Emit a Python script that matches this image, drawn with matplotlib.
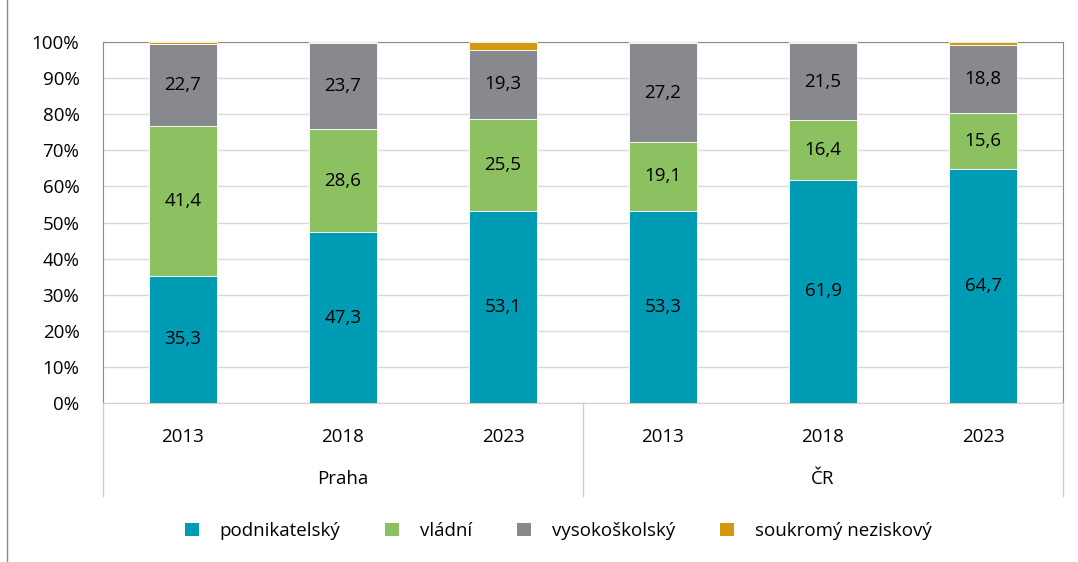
import matplotlib.pyplot as plt
from matplotlib.patches import Patch
from matplotlib.lines import Line2D
import matplotlib.transforms as mtransforms

plt.rcParams['font.family'] = ['Open Sans', 'DejaVu Sans']

groups = ['Praha', 'ČR']
years = ['2013', '2018', '2023', '2013', '2018', '2023']
series = ['podnikatelský', 'vládní', 'vysokoškolský', 'soukromý neziskový']
podnikatelsky = [35.3, 47.3, 53.1, 53.3, 61.9, 64.7]
vladni = [41.4, 28.6, 25.5, 19.1, 16.4, 15.6]
vysokoskolsky = [22.7, 23.7, 19.3, 27.2, 21.5, 18.8]
soukromy = [0.6, 0.4, 2.1, 0.4, 0.2, 0.9]
colors = ['#009CB5', '#8BC160', '#87898C', '#D4980F']

fs = 13.5

fig = plt.figure(figsize=(10.78, 5.62), dpi=100)
ax = fig.add_axes([103 / 1078, 1 - 403 / 562, 960 / 1078, 361 / 562])

x = list(range(len(years)))
bottom = [0] * len(years)
data = [podnikatelsky, vladni, vysokoskolsky, soukromy]
for k, (vals, c) in enumerate(zip(data, colors)):
    ax.bar(x, vals, bottom=bottom, width=0.425, color=c,
           edgecolor='white', linewidth=0.6, zorder=3)
    if k < 3:
        for xi, b, v in zip(x, bottom, vals):
            ax.text(xi, b + v / 2, f'{v:.1f}'.replace('.', ','),
                    ha='center', va='center', fontsize=fs, zorder=4)
    bottom = [b + v for b, v in zip(bottom, vals)]

ax.set_xlim(-0.5, 5.5)
ax.set_ylim(0, 100)
ax.set_yticks(range(0, 101, 10))
ax.set_yticklabels([f'{t}%' for t in range(0, 101, 10)], fontsize=fs)
ax.tick_params(axis='y', length=0, pad=17)
ax.set_xticks(x)
ax.set_xticklabels(years, fontsize=fs)
ax.tick_params(axis='x', length=0, pad=18)
ax.grid(axis='y', color='#D9D9D9', linewidth=1, zorder=0)
for s in ['left', 'top', 'right']:
    ax.spines[s].set_color('#8C8C8C')
ax.spines['bottom'].set_color('#D0D0D0')

trans = mtransforms.blended_transform_factory(ax.transData, ax.transAxes)
for xs in [-0.5, 2.5, 5.5]:
    ax.add_line(Line2D([xs, xs], [0, -0.258], transform=trans,
                       color='#D0D0D0', linewidth=1, clip_on=False))
for gi, g in enumerate(groups):
    ax.text(gi * 3 + 1, -0.211, g, transform=trans, ha='center', va='center',
            fontsize=fs)

handles = [Patch(facecolor=c, edgecolor='none') for c in colors]
fig.legend(handles, series, loc='center', bbox_to_anchor=(558 / 1078, 1 - 531 / 562),
           ncol=4, frameon=False, fontsize=fs, handlelength=0.75, handleheight=0.75,
           handletextpad=1.1, columnspacing=2.4)

fig.add_artist(Line2D([7 / 1078, 7 / 1078], [0, 1], transform=fig.transFigure,
                      color='#8C8C8C', linewidth=1))

plt.savefig('out.png', dpi=100)
